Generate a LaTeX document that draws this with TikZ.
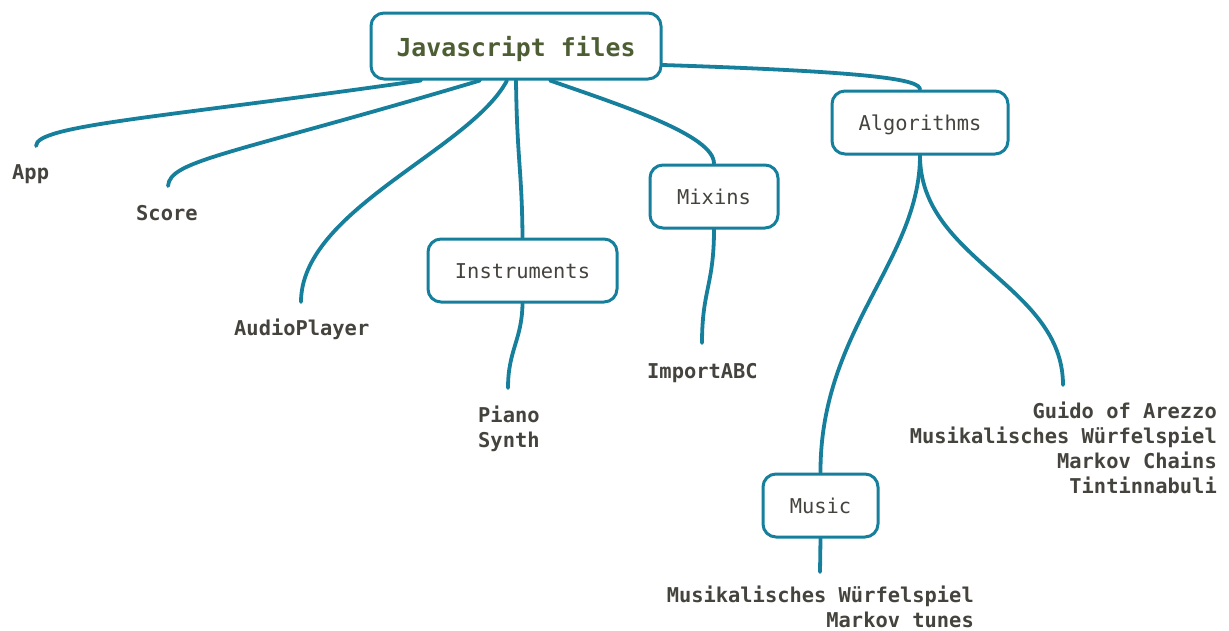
\documentclass[tikz,border=0pt]{standalone}
\usepackage{fontspec}
\setmonofont{DejaVu Sans Mono}
\usetikzlibrary{backgrounds}
\definecolor{linkteal}{RGB}{22,127,156}
\definecolor{inkgray}{RGB}{69,67,62}
\definecolor{titleolive}{RGB}{78,94,52}
\tikzset{
  box/.style={draw=linkteal, line width=3pt, rounded corners=13pt, fill=white,
    text=inkgray, font=\ttfamily\fontsize{20.4}{25}\selectfont,
    text height=19pt, text depth=4pt, inner sep=0pt, minimum height=63pt},
  rootbox/.style={box, text=titleolive, font=\ttfamily\bfseries\fontsize{24.8}{29}\selectfont,
    text height=25pt, text depth=5pt, minimum height=66pt, minimum width=290pt},
  leaf/.style={text=inkgray, inner sep=0pt,
    font=\ttfamily\bfseries\fontsize{20.4}{24.8}\selectfont},
  link/.style={draw=linkteal, line width=3.8pt, line cap=round}
}
\begin{document}
\begin{tikzpicture}[x=1pt, y=-1pt]
\useasboundingbox (0,0) rectangle (1229,630);

% boxes
\node[rootbox] (root) at (516,46) {Javascript files};
\node[box, minimum width=176pt] (algo) at (920,122.5) {Algorithms};
\node[box, minimum width=128pt] (mixins) at (714,196.5) {Mixins};
\node[box, minimum width=189pt] (instr) at (522.5,270.5) {Instruments};
\node[box, minimum width=115pt] (music) at (820.5,505.5) {Music};

% leaf labels (multi-line ones sit on the baseline of their last line)
\node[leaf, anchor=base west] (app) at (12,179) {App};
\node[leaf, anchor=base west] (score) at (136,220) {Score};
\node[leaf, anchor=base west] (audio) at (234,335) {AudioPlayer};
\node[leaf, anchor=base west, align=left] (synths) at (478,447) {Piano\\Synth};
\node[leaf, anchor=base west] (abc) at (647,378) {ImportABC};
\node[leaf, anchor=base east, align=right] (algolist) at (1217,493)
  {Guido of Arezzo\\Musikalisches Würfelspiel\\Markov Chains\\Tintinnabuli};
\node[leaf, anchor=base east, align=right] (musiclist) at (974,627)
  {Musikalisches Würfelspiel\\Markov tunes};

% loose ends of the connectors, just above each label
\coordinate (appEnd) at (36,146);
\coordinate (scoreEnd) at (168,186);
\coordinate (audioEnd) at (301,302);
\coordinate (synthEnd) at (508,388);
\coordinate (abcEnd) at (702,343);
\coordinate (algoEnd) at (1063,385);
\coordinate (musicEnd) at (820,572);

\begin{scope}[on background layer]
\fill[white] (0,0) rectangle (1229,630);
\draw[link] ([xshift=-95pt]root.south) .. controls (160,118) and (36,125) .. (appEnd);
\draw[link] ([xshift=-36pt]root.south) .. controls (230,155) and (170,160) .. (scoreEnd);
\draw[link] ([xshift=-9pt]root.south) .. controls (470,150) and (301,210) .. (audioEnd);
\draw[link] (root.south) .. controls (517,160) and (522,170) .. (instr.north);
\draw[link] ([xshift=34pt]root.south) .. controls (620,105) and (714,135) .. (mixins.north);
\draw[link] ([yshift=-19pt]root.east) .. controls (880,72) and (920,80) .. (algo.north);
\draw[link] (instr.south) .. controls (522,340) and (508,350) .. (synthEnd);
\draw[link] (mixins.south) .. controls (714,285) and (702,290) .. (abcEnd);
\draw[link] (algo.south) .. controls (920,260) and (820,330) .. (music.north);
\draw[link] (algo.south) .. controls (920,260) and (1063,285) .. (algoEnd);
\draw[link] (music.south) -- (musicEnd);
\end{scope}
\end{tikzpicture}
\end{document}
